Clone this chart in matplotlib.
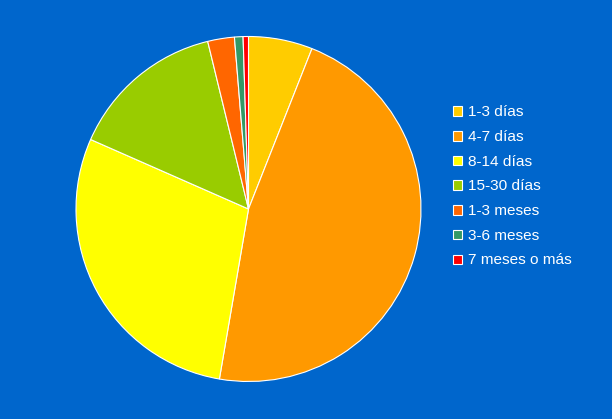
import matplotlib
matplotlib.use("Agg")
import matplotlib.pyplot as plt
from matplotlib.patches import Rectangle

labels = ["1-3 días", "4-7 días", "8-14 días", "15-30 días", "1-3 meses", "3-6 meses", "7 meses o más"]
values = [6.0, 46.7, 28.9, 14.6, 2.5, 0.8, 0.5]
colors = ["#FFCC00", "#FF9900", "#FFFF00", "#99CC00", "#FF6600", "#339966", "#FF0000"]

W, H = 612, 419
bg = "#0066CC"
fig = plt.figure(figsize=(W / 100, H / 100), dpi=100, facecolor=bg)

# pie: center (248.5, 209) px, radius 172.5 px
cx, cy, r = 248.5, 209, 172.5
ax = fig.add_axes([(cx - r) / W, (H - cy - r) / H, 2 * r / W, 2 * r / H])
ax.set_facecolor(bg)
ax.pie(values, colors=colors, startangle=90, counterclock=False,
       wedgeprops=dict(edgecolor="white", linewidth=0.8), radius=1)
ax.set_xlim(-1, 1)
ax.set_ylim(-1, 1)
ax.set_aspect("equal")
ax.axis("off")

# legend drawn by hand to match the layout
y0, dy = 111.2, 24.7
for i, (lab, col) in enumerate(zip(labels, colors)):
    yc = y0 + i * dy
    fig.patches.append(Rectangle((453 / W, (H - yc - 4.7) / H), 9.5 / W, 9.5 / H,
                                 transform=fig.transFigure, facecolor=col,
                                 edgecolor="white", linewidth=0.8))
    fig.text(468 / W, (H - yc + 0.5) / H, lab, color="white", fontsize=11.1,
             family="Liberation Sans", va="center_baseline", ha="left")

fig.savefig("out.png", dpi=100, facecolor=bg)
